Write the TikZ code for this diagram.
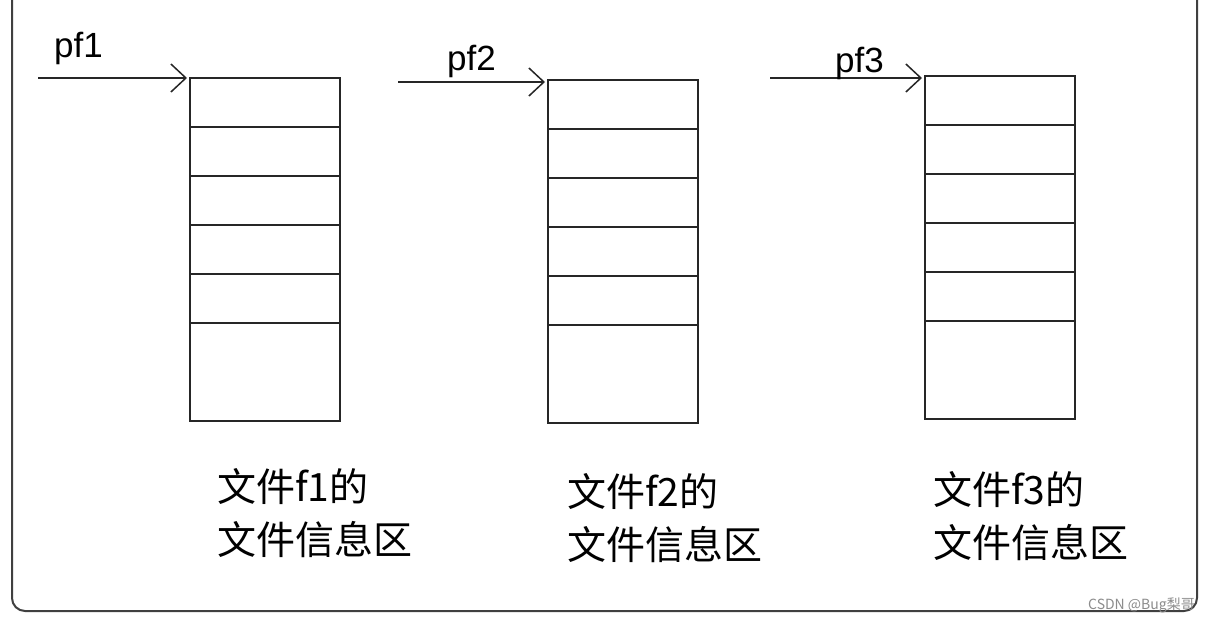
\documentclass[tikz,border=0pt]{standalone}
\usepackage{fontspec}
\setmainfont{Liberation Sans}
\newfontfamily\cjk{Noto Sans CJK SC}
\usetikzlibrary{arrows.meta}
\tikzset{
  cell/.style={draw=black!85, line width=1.8pt, minimum width=150pt, minimum height=49pt, inner sep=0pt, outer sep=0pt, anchor=north west},
  bigcell/.style={cell, minimum height=98pt},
  ptr/.style={draw=black!85, line width=1.5pt, -{Straight Barb[length=15pt,width=28pt,line width=1.5pt]}},
  ptrlabel/.style={font=\fontsize{35}{35}\selectfont, anchor=base west, inner sep=0pt},
  captext/.style={font=\cjk\fontsize{39}{39}\selectfont, anchor=west, inner sep=0pt},
  outerframe/.style={draw=black!75, line width=2pt, rounded corners=13pt},
  wmark/.style={font=\cjk\fontsize{14}{14}\selectfont, text=black!45, anchor=east, inner sep=0pt}
}
\begin{document}
\begin{tikzpicture}[x=1pt,y=-1pt]
\useasboundingbox (0,0) rectangle (1209,623);
\fill[white] (0,0) rectangle (1209,623);
\draw[outerframe] (12,-20) -- (12,611) -- (1197,611) -- (1197,-20);
\foreach \i/\lx/\ty/\ax/\ay/\px/\py/\cx/\cy in {1/190/78/38/78/54/58/217/487, 2/548/80/398/82/447/71/567/492, 3/925/76/770/78/835/73/933/490}{
  \node[cell] (s\i c1) at (\lx,\ty) {};
  \node[cell] (s\i c2) at (s\i c1.south west) {};
  \node[cell] (s\i c3) at (s\i c2.south west) {};
  \node[cell] (s\i c4) at (s\i c3.south west) {};
  \node[cell] (s\i c5) at (s\i c4.south west) {};
  \node[bigcell] (s\i c6) at (s\i c5.south west) {};
  \coordinate (a\i) at (\ax,\ay);
  \coordinate (e\i) at (\lx-3,\ay);
  \draw[ptr] (a\i) -- (e\i);
  \node[ptrlabel] (p\i) at (\px,\py) {pf\i};
  \node[captext] (t\i a) at (\cx,\cy) {文件f\i 的};
  \node[captext] (t\i b) at (\cx,\cy+53) {文件信息区};
}
\node[wmark] (wm) at (1195,605) {CSDN @Bug梨哥};
\end{tikzpicture}
\end{document}
